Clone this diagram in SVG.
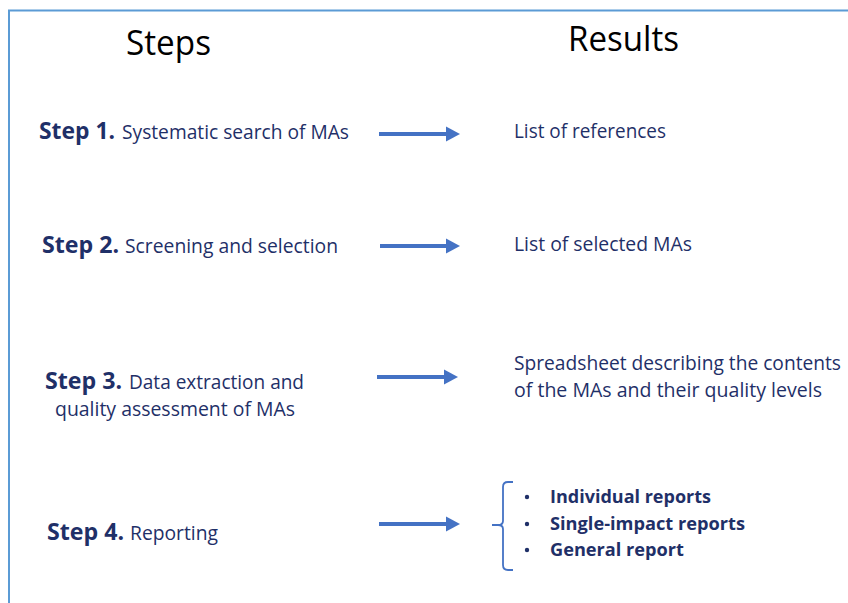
<svg xmlns="http://www.w3.org/2000/svg" width="848" height="603" viewBox="0 0 848 603">
<defs>
<style>
.bd{fill:none;stroke:#5b9bd5;stroke-width:2}
.hd{font-family:"Open Sans","Liberation Sans",sans-serif;font-size:35px;fill:#000}
.sb{font-family:"Open Sans","Liberation Sans",sans-serif;font-size:24px;font-weight:bold;fill:#1f3068}
.sr{font-family:"Open Sans","Liberation Sans",sans-serif;font-size:20px;fill:#1f3068}
.rr{font-family:"Open Sans","Liberation Sans",sans-serif;font-size:19.5px;fill:#1f3068}
.rb{font-family:"Open Sans","Liberation Sans",sans-serif;font-size:18px;font-weight:bold;fill:#1f3068}
.ln{stroke:#4472c4;stroke-width:4;fill:none}
.ah{fill:#4472c4}
.br{fill:none;stroke:#4472c4;stroke-width:1.8}
</style>
</defs>
<rect width="848" height="603" fill="#fff"/>
<path class="bd" d="M9,603 V10.5 H848"/>
<text class="hd" x="126" y="55" textLength="85" lengthAdjust="spacingAndGlyphs">Steps</text>
<text class="hd" x="568" y="51" textLength="111" lengthAdjust="spacingAndGlyphs">Results</text>
<g id="step1">
<text class="sb" x="39" y="139" textLength="76" lengthAdjust="spacingAndGlyphs">Step 1.</text>
<text class="sr" x="122" y="139" textLength="227" lengthAdjust="spacingAndGlyphs">Systematic search of MAs</text>
</g>
<g id="result1">
<text class="rr" x="514" y="138" textLength="152" lengthAdjust="spacingAndGlyphs">List of references</text>
</g>
<g id="step2">
<text class="sb" x="42" y="253" textLength="77" lengthAdjust="spacingAndGlyphs">Step 2.</text>
<text class="sr" x="125" y="253" textLength="213" lengthAdjust="spacingAndGlyphs">Screening and selection</text>
</g>
<g id="result2">
<text class="rr" x="514" y="251" textLength="178" lengthAdjust="spacingAndGlyphs">List of selected MAs</text>
</g>
<g id="step3">
<text class="sb" x="45" y="389" textLength="77" lengthAdjust="spacingAndGlyphs">Step 3.</text>
<text class="sr" x="129" y="389" textLength="175" lengthAdjust="spacingAndGlyphs">Data extraction and</text>
<text class="sr" x="55" y="416" textLength="240" lengthAdjust="spacingAndGlyphs">quality assessment of MAs</text>
</g>
<g id="result3">
<text class="rr" x="514" y="370" textLength="327" lengthAdjust="spacingAndGlyphs">Spreadsheet describing the contents</text>
<text class="rr" x="514" y="397" textLength="308" lengthAdjust="spacingAndGlyphs">of the MAs and their quality levels</text>
</g>
<g id="step4">
<text class="sb" x="47" y="540" textLength="77" lengthAdjust="spacingAndGlyphs">Step 4.</text>
<text class="sr" x="130" y="540" textLength="88" lengthAdjust="spacingAndGlyphs">Reporting</text>
</g>
<g id="result4">
<path class="br" d="M513,482 H508 Q503,482 503,487 V521 Q503,525 498,525 H492 M498,525 Q503,525 503,529 V565 Q503,570 508,570 H513"/>
<circle cx="527" cy="497" r="2.2" fill="#1f3068"/>
<circle cx="527" cy="524" r="2.2" fill="#1f3068"/>
<circle cx="527" cy="550" r="2.2" fill="#1f3068"/>
<text class="rb" x="550" y="503" textLength="161" lengthAdjust="spacingAndGlyphs">Individual reports</text>
<text class="rb" x="550" y="530" textLength="195" lengthAdjust="spacingAndGlyphs">Single-impact reports</text>
<text class="rb" x="550" y="556" textLength="134" lengthAdjust="spacingAndGlyphs">General report</text>
</g>
<g id="connectors">
<line class="ln" x1="379" y1="134" x2="448" y2="134"/>
<polygon class="ah" points="446,126.5 460,134 446,141.5"/>
<line class="ln" x1="380" y1="246" x2="448" y2="246"/>
<polygon class="ah" points="446,238.5 460,246 446,253.5"/>
<line class="ln" x1="377" y1="377" x2="446" y2="377"/>
<polygon class="ah" points="444,369.5 458,377 444,384.5"/>
<line class="ln" x1="379" y1="524" x2="448" y2="524"/>
<polygon class="ah" points="446,516.5 460,524 446,531.5"/>
</g>
</svg>
